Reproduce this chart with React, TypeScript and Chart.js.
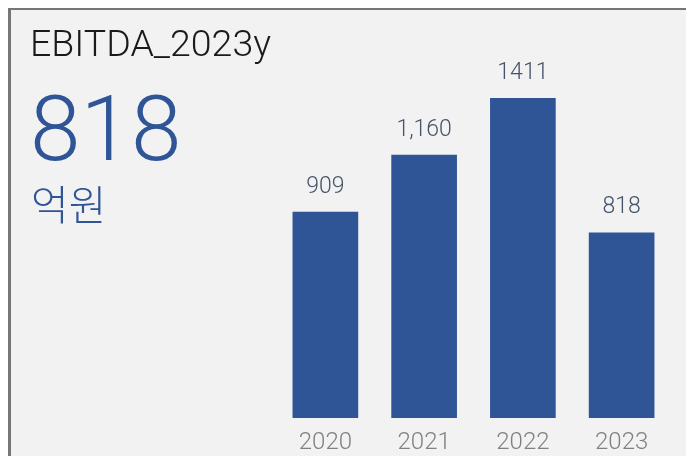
import React, { useEffect, useRef } from "react";
import { Chart, registerables } from "chart.js";

Chart.register(...registerables);

const categories = ["2020", "2021", "2022", "2023"];
const values = [909, 1160, 1411, 818];
const valueLabels = ["909", "1,160", "1411", "818"];
const title = "EBITDA_2023y";
const headline = "818";
const unit = "억원";

const BAR = "#2f5597";
const LABEL = "#44546a";

const labelPlugin = {
  id: "barLabels",
  afterDatasetsDraw(chart: any) {
    const ctx = chart.ctx;
    const meta = chart.getDatasetMeta(0);
    ctx.save();
    ctx.font = "300 23px Roboto";
    ctx.fillStyle = LABEL;
    ctx.textAlign = "center";
    ctx.textBaseline = "alphabetic";
    meta.data.forEach((bar: any, i: number) => {
      ctx.fillText(valueLabels[i], bar.x, bar.y - 19);
    });
    ctx.restore();
  },
};

export default function App() {
  const ref = useRef<HTMLCanvasElement>(null);
  useEffect(() => {
    if (!ref.current) return;
    const chart = new Chart(ref.current, {
      type: "bar",
      data: {
        labels: categories,
        datasets: [
          {
            data: values,
            backgroundColor: BAR,
            borderWidth: 0,
            categoryPercentage: 1,
            barPercentage: 0.665,
          },
        ],
      },
      options: {
        responsive: false,
        animation: false,
        devicePixelRatio: 1,
        layout: { padding: { left: 265, right: 23, top: 45, bottom: 0 } },
        plugins: { legend: { display: false }, tooltip: { enabled: false } },
        scales: {
          x: {
            grid: { display: false, drawTicks: false },
            border: { display: false },
            afterFit: (scale: any) => {
              scale.height = 38;
            },
            ticks: {
              color: "#808080",
              padding: 11,
              font: { family: "Roboto", size: 24, weight: "300" as any, lineHeight: 1.2 },
            },
          },
          y: {
            display: false,
            min: 0,
            max: 1600,
          },
        },
      },
      plugins: [labelPlugin],
    });
    return () => chart.destroy();
  }, []);

  return (
    <div
      style={{
        position: "relative",
        marginTop: -1,
        width: 686,
        height: 449,
        boxSizing: "border-box",
        borderLeft: "3px solid #767676",
        borderTop: "3px solid #767676",
        background: "#f2f2f2",
        overflow: "hidden",
      }}
    >
      <canvas
        ref={ref}
        width={683}
        height={446}
        style={{ position: "absolute", left: 0, top: 0, width: 683, height: 446 }}
      />
      <div
        style={{
          position: "absolute",
          left: 19,
          top: 14.5,
          fontFamily: "Roboto",
          fontWeight: 300,
          fontSize: 37.5,
          lineHeight: 1,
          color: "#1a1a1a",
          whiteSpace: "nowrap",
        }}
      >
        {title}
      </div>
      <div
        style={{
          position: "absolute",
          left: 19,
          top: 74,
          fontFamily: "Roboto",
          fontWeight: 300,
          fontSize: 91,
          lineHeight: 1,
          color: BAR,
          whiteSpace: "nowrap",
        }}
      >
        {headline}
      </div>
      <div
        style={{
          position: "absolute",
          left: 20,
          top: 172,
          fontFamily: "'Noto Sans CJK KR'",
          fontWeight: 300,
          fontSize: 41,
          lineHeight: 1,
          color: BAR,
          whiteSpace: "nowrap",
        }}
      >
        {unit}
      </div>
    </div>
  );
}
